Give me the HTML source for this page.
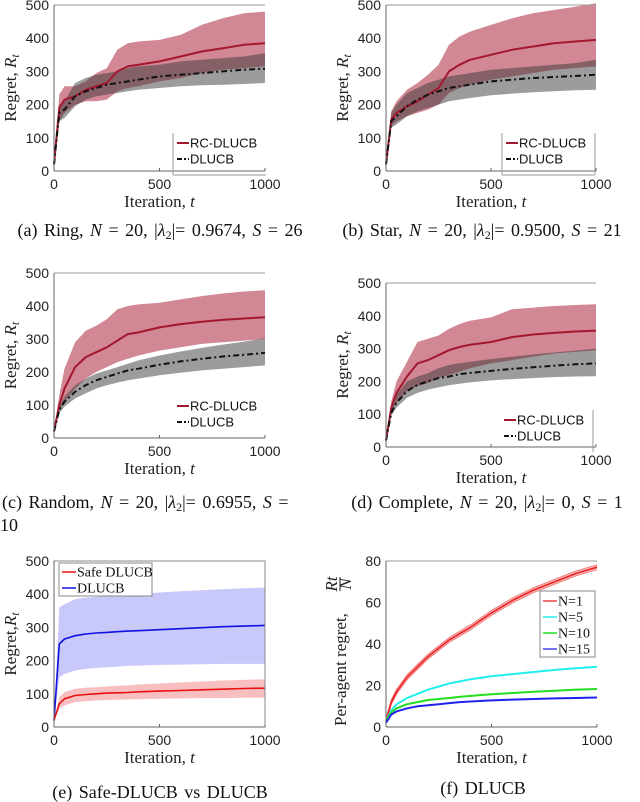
<!DOCTYPE html>
<html><head><meta charset="utf-8">
<style>
body{margin:0;background:#fff;}
svg{display:block;}
.tick{font-family:"Liberation Sans",sans-serif;font-size:14px;fill:#222;}
.lab{font-family:"Liberation Serif",serif;font-size:17px;fill:#222;}
.cap{font-family:"Liberation Serif",serif;font-size:18px;fill:#111;word-spacing:2px;}
.leg{font-family:"Liberation Sans",sans-serif;font-size:13px;fill:#111;}
.legs{font-family:"Liberation Serif",serif;font-size:14px;fill:#111;}
</style></head><body>
<svg id="fig" width="640" height="802" viewBox="0 0 640 802" xmlns="http://www.w3.org/2000/svg"></svg>
<script>
const T = [0,25,50,100,150,200,250,300,350,400,500,600,700,800,900,1000];
// Panel a
const aRcMean=[20,190,215,225,245,255,265,300,315,320,330,345,360,370,380,385];
const aRcUp=[20,230,255,255,270,295,310,365,385,390,395,410,440,460,475,480];
const aRcLo=[20,150,175,200,210,210,215,240,250,255,270,280,295,305,310,315];
const aDlMean=[20,175,185,225,240,250,260,265,270,275,285,290,295,300,305,308];
const aDlUp=[20,200,210,265,280,290,295,300,310,315,320,330,335,340,345,355];
const aDlLo=[20,150,160,195,215,225,230,235,240,245,250,255,258,260,262,265];
// Panel b
const bRcMean=[20,155,175,195,210,230,250,300,320,335,350,365,375,385,390,395];
const bRcUp=[20,180,210,245,265,290,320,380,405,420,440,460,475,485,495,505];
const bRcLo=[20,135,150,165,175,185,200,235,250,260,275,285,295,305,310,315];
const bDlMean=[20,150,165,195,215,230,240,250,255,260,270,275,280,283,286,290];
const bDlUp=[20,175,200,235,250,265,275,285,290,295,305,310,315,320,325,335];
const bDlLo=[20,130,140,165,180,190,200,210,215,220,228,233,237,240,243,245];
// Panel c
const cRcMean=[20,100,150,215,245,260,275,295,315,320,335,345,352,358,362,366];
const cRcUp=[20,130,210,290,325,340,360,390,400,405,410,420,430,438,444,448];
const cRcLo=[20,85,110,150,180,200,215,230,240,250,265,275,285,290,295,300];
const cDlMean=[20,85,110,140,160,175,185,195,205,210,222,232,240,247,252,258];
const cDlUp=[20,95,125,160,180,195,205,215,225,235,250,262,273,283,292,302];
const cDlLo=[20,75,95,120,135,150,160,168,175,180,190,198,205,210,215,220];
// Panel d
const dRcMean=[20,120,165,215,255,265,280,295,305,312,320,335,343,348,352,355];
const dRcUp=[20,140,200,260,320,330,340,360,375,385,395,420,425,430,433,435];
const dRcLo=[20,105,135,170,185,195,210,220,230,240,255,265,275,285,290,295];
const dDlMean=[20,105,135,170,190,200,210,215,222,226,232,238,243,248,252,255];
const dDlUp=[20,120,160,200,215,225,240,250,255,260,268,275,282,288,294,300];
const dDlLo=[20,95,120,150,165,175,182,188,193,197,203,207,210,213,215,216];
// Panel e
const eSafeMean=[20,70,85,95,98,100,102,103,104,106,108,110,112,114,116,117];
const eSafeUp=[20,90,105,115,118,120,122,124,126,128,131,134,137,140,142,144];
const eSafeLo=[20,55,65,75,78,80,81,82,83,84,85,86,87,87,88,88];
const eDlMean=[20,250,265,275,280,283,285,287,289,290,293,296,299,302,304,306];
const eDlUp=[20,360,370,385,390,392,395,397,399,401,405,409,412,415,418,420];
const eDlLo=[20,150,160,170,175,178,180,182,184,185,187,188,189,190,190,190];
// Panel f
const fN1=[3,12,17,24,29,34,38,42,45,48,55,61,66,70,74,77];
const fN5=[3,8,11,14,16,18,19.5,21,22,23,24.5,25.5,26.5,27.5,28.3,29];
const fN10=[3,7,9,11,12,13,13.5,14,14.5,15,15.8,16.4,17,17.5,18,18.3];
const fN15=[2,6,7.5,9,10,10.5,11,11.5,12,12.3,12.8,13.2,13.5,13.8,14,14.2];
const xTicks=[0,500,1000];
const yTicksR=[0,100,200,300,400,500];
const yTicksF=[0,20,40,60,80];

const svg=document.getElementById('fig');
const NS='http://www.w3.org/2000/svg';
function mk(tag,attrs,parent,text){const e=document.createElementNS(NS,tag);for(const k in attrs)e.setAttribute(k,attrs[k]);if(text!==undefined)e.textContent=text;(parent||svg).appendChild(e);return e;}

function panel(name,x0,x1,yTop,yBot,ymax,yticks,box){
  const g=mk('g',{});
  
  
  const sx=v=>x0+(v/1000)*(x1-x0);
  const sy=v=>yBot-(v/ymax)*(yBot-yTop);
  return {g,sx,sy,x0,x1,yTop,yBot,yticks,box,ymax};
}
function axes(p,ylabel){
  const {g,sx,sy,x0,x1,yTop,yBot}=p;
  if(p.box){const r=mk('rect',{x:x0,y:yTop,width:x1-x0,height:yBot-yTop,fill:'none',stroke:'#888','stroke-width':1},g);}
  else{mk('line',{x1:x0,y1:yTop,x2:x1,y2:yTop,stroke:'#999','stroke-width':1},g);}
  const ya=mk('line',{x1:x0,y1:yTop,x2:x0,y2:yBot,stroke:'#666','stroke-width':1},g);
  
  const xa=mk('line',{x1:x0,y1:yBot,x2:x1,y2:yBot,stroke:'#666','stroke-width':1},g);
  
  p.yticks.forEach(v=>{const t=mk('text',{x:x0-5,y:sy(v)+5,'text-anchor':'end',class:'tick'},g,String(v));});
  xTicks.forEach(v=>{mk('line',{x1:sx(v),y1:yBot,x2:sx(v),y2:yBot-3,stroke:'#666'},g);const t=mk('text',{x:sx(v),y:yBot+18,'text-anchor':'middle',class:'tick'},g,String(v));});
  const xl=mk('text',{x:(x0+x1)/2,y:yBot+36,'text-anchor':'middle',class:'lab'},g);
  
  xl.innerHTML='Iteration, <tspan font-style="italic">t</tspan>';
  if(ylabel){
  const cy=(yTop+yBot)/2, cx=x0-38;
  const yl=mk('text',{x:cx,y:cy,'text-anchor':'middle',class:'lab',transform:`rotate(-90 ${cx} ${cy})`},g);
  
  yl.innerHTML=ylabel;}
}
function band(p,up,lo,fill,op,name){
  let d='';T.forEach((t,i)=>{d+=(i?'L':'M')+p.sx(t).toFixed(1)+','+p.sy(up[i]).toFixed(1);});
  for(let i=T.length-1;i>=0;i--)d+='L'+p.sx(T[i]).toFixed(1)+','+p.sy(lo[i]).toFixed(1);
  const e=mk('path',{d:d+'Z',fill:fill,'fill-opacity':op,stroke:'none'},p.g);
  
}
function line(p,vals,color,w,dash,name){
  const pts=T.map((t,i)=>p.sx(t).toFixed(1)+','+p.sy(vals[i]).toFixed(1)).join(' ');
  const a={points:pts,fill:'none',stroke:color,'stroke-width':w,'stroke-linejoin':'round'};
  if(dash)a['stroke-dasharray']=dash;
  const e=mk('polyline',a,p.g);
  
}
const RC='#a3182e', RCB='#b8475a', DLB='#3a3a3a';
const rLab='Regret, <tspan font-style="italic">R</tspan><tspan font-style="italic" font-size="12" dy="3">t</tspan>';
function rcPanel(name,x0,x1,yT,yB,rm,ru,rl,dm,du,dl,leg){
  const p=panel(name,x0,x1,yT,yB,500,yTicksR,false);
  band(p,ru,rl,RCB,0.65,'rc-dlucb-band');
  band(p,du,dl,DLB,0.5,'dlucb-band');
  line(p,rm,RC,2,null,'rc-dlucb-line');
  line(p,dm,'#111',2,'6,3,2,3','dlucb-line');
  axes(p,rLab);
  const lg=mk('g',{},p.g);
  const [lx,ly,bl,br]=leg;
  if(bl)mk('line',{x1:lx,y1:ly-10,x2:lx,y2:ly+32,stroke:'#999'},lg);
  if(br)mk('line',{x1:lx+93,y1:ly-10,x2:lx+93,y2:ly+32,stroke:'#999'},lg);
  if(bl)mk('line',{x1:lx,y1:ly+32,x2:lx+93,y2:ly+32,stroke:'#999'},lg);
  mk('line',{x1:lx+4,y1:ly,x2:lx+16,y2:ly,stroke:RC,'stroke-width':2},lg);
  const t1=mk('text',{x:lx+17,y:ly+4.5,class:'leg'},lg,'RC-DLUCB');
  mk('line',{x1:lx+4,y1:ly+16,x2:lx+16,y2:ly+16,stroke:'#111','stroke-width':2,'stroke-dasharray':'5,2,2,2'},lg);
  const t2=mk('text',{x:lx+17,y:ly+20.5,class:'leg'},lg,'DLUCB');
}
rcPanel('panel-a-ring',54,265,5,171,aRcMean,aRcUp,aRcLo,aDlMean,aDlUp,aDlLo,[173,143,true,false]);
rcPanel('panel-b-star',386,596,5,171,bRcMean,bRcUp,bRcLo,bDlMean,bDlUp,bDlLo,[502,143,true,true]);
rcPanel('panel-c-random',54,265,273,438,cRcMean,cRcUp,cRcLo,cDlMean,cDlUp,cDlLo,[173,406,false,false]);
rcPanel('panel-d-complete',386,596,283,447,dRcMean,dRcUp,dRcLo,dDlMean,dDlUp,dDlLo,[500,420,false,true]);

// Panel e
(function(){
  const p=panel('panel-e-safe',54,265,561,727,500,yTicksR,true);
  band(p,eDlUp,eDlLo,'#9a9af5',0.55,'dlucb-band');
  band(p,eSafeUp,eSafeLo,'#f08a8a',0.55,'safe-dlucb-band');
  line(p,eDlMean,'#1010e0',1.6,null,'dlucb-line');
  line(p,eSafeMean,'#e81010',1.6,null,'safe-dlucb-line');
  axes(p,'Regret,<tspan font-style="italic">R</tspan><tspan font-style="italic" font-size="12" dy="3">t</tspan>');
  const lg=mk('g',{},p.g);
  mk('rect',{x:59,y:563,width:93,height:33,fill:'#fff',stroke:'#888'},lg);
  mk('line',{x1:62,y1:572,x2:76,y2:572,stroke:'#e81010','stroke-width':1.5},lg);
  const a=mk('text',{x:77,y:576.5,class:'legs'},lg,'Safe DLUCB');
  mk('line',{x1:62,y1:588,x2:76,y2:588,stroke:'#1010e0','stroke-width':1.5},lg);
  const b=mk('text',{x:77,y:592.5,class:'legs'},lg,'DLUCB');
})();
// Panel f
(function(){
  const p=panel('panel-f-per-agent',386,597,561,727,80,yTicksF,false);
  const up=fN1.map(v=>v+1.2), lo=fN1.map(v=>v-1.2);
  band(p,up,lo,'#f4a0a0',0.7,'n1-band');
  line(p,up,'#f07070',0.8,null,'n1-upper');
  line(p,lo,'#f07070',0.8,null,'n1-lower');
  line(p,fN1,'#ee2222',1.6,null,'n1-line');
  line(p,fN5,'#22eeee',2,null,'n5-line');
  line(p,fN10,'#22dd22',2,null,'n10-line');
  line(p,fN15,'#2222ee',2,null,'n15-line');
  axes(p,null);
  const cx=346, cy=644;
  const fr=mk('g',{transform:`rotate(-90 ${cx} ${cy})`},p.g);
  mk('text',{x:cx-82,y:cy,class:'lab'},fr,'Per-agent regret,');
  mk('text',{x:cx+60,y:cy-9,class:'lab','font-size':'11','font-style':'italic','text-anchor':'middle'},fr,'Rt');
  mk('line',{x1:cx+53,y1:cy-6,x2:cx+67,y2:cy-6,stroke:'#222'},fr);
  mk('text',{x:cx+60,y:cy+5,class:'lab','font-size':'11','font-style':'italic','text-anchor':'middle'},fr,'N');
  const lg=mk('g',{},p.g);
  mk('rect',{x:540,y:591,width:55,height:66,fill:'#fff',stroke:'#888'},lg);
  const cols=['#ee4444','#22eeee','#22dd22','#4444ee'], labs=['N=1','N=5','N=10','N=15'];
  labs.forEach((l,i)=>{const y=601+i*16;mk('line',{x1:543,y1:y,x2:557,y2:y,stroke:cols[i],'stroke-width':1.5},lg);const t=mk('text',{x:558,y:y+4.5,class:'legs'},lg,l);});
})();
// captions
function cap(x,y,html,name,anchor){const t=mk('text',{x:x,y:y,class:'cap','text-anchor':anchor||'middle'});t.innerHTML=html;}
const I=s=>'<tspan font-style="italic">'+s+'</tspan>';
const L='|'+I('λ')+'<tspan font-size="12" dy="3">2</tspan><tspan dy="-3">|</tspan>';
cap(160,236,'(a) Ring, '+I('N')+' = 20, '+L+'= 0.9674, '+I('S')+' = 26','caption-a');
cap(482,236,'(b) Star, '+I('N')+' = 20, '+L+'= 0.9500, '+I('S')+' = 21','caption-b');
cap(2,508,'(c) Random, '+I('N')+' = 20, '+L+'= 0.6955, '+I('S')+' =','caption-c','start');
mk('text',{x:0,y:531,class:'cap'},svg,'10');
cap(487,508,'(d) Complete, '+I('N')+' = 20, '+L+'= 0, '+I('S')+' = 1','caption-d');
cap(160,798,'(e) Safe-DLUCB vs DLUCB','caption-e');
cap(483,794,'(f) DLUCB','caption-f');
</script>
</body></html>
